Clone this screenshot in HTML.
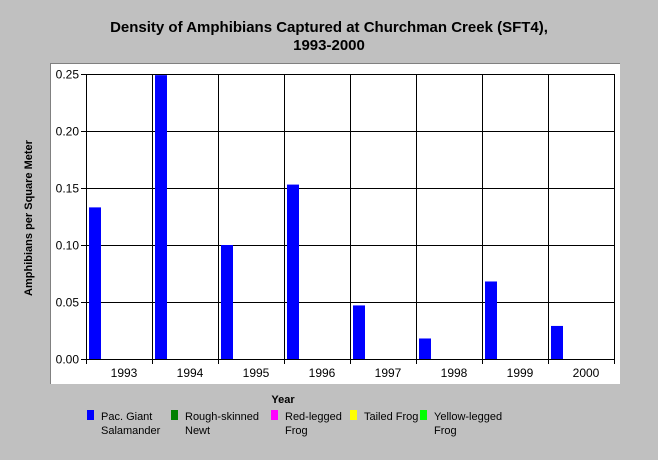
<!DOCTYPE html>
<html><head><meta charset="utf-8"><style>
body{margin:0;background:#c0c0c0;}
svg text{font-family:"Liberation Sans",Arial,sans-serif;}
</style></head><body>
<svg id="chart" width="658" height="455" xmlns="http://www.w3.org/2000/svg">
<rect width="658" height="455" fill="#c0c0c0"/>
<text x="329" y="32" text-anchor="middle" font-size="15" font-weight="bold">Density of Amphibians Captured at Churchman Creek (SFT4),</text>
<text x="329" y="50" text-anchor="middle" font-size="15" font-weight="bold">1993-2000</text>
<rect x="50" y="63" width="570" height="321" fill="#fff"/>
<line x1="50" y1="63.5" x2="620" y2="63.5" stroke="#808080"/>
<line x1="50.5" y1="63" x2="50.5" y2="384" stroke="#808080"/>
<g id="grid"></g>
<g id="bars"></g>
<g id="axes"></g>
<text transform="translate(32,218) rotate(-90)" text-anchor="middle" font-size="11" font-weight="bold">Amphibians per Square Meter</text>
<text x="283" y="403" text-anchor="middle" font-size="11" font-weight="bold">Year</text>
<g id="legend"></g>
</svg>
<script>
const years=["1993","1994","1995","1996","1997","1998","1999","2000"];
const seriesNames=["Pac. Giant|Salamander","Rough-skinned|Newt","Red-legged|Frog","Tailed Frog","Yellow-legged|Frog"];
const seriesColors=["#0000ff","#008000","#ff00ff","#ffff00","#00ff00"];
const pacGiant=[0.133,0.249,0.100,0.153,0.047,0.018,0.068,0.029];
const roughNewt=[0,0,0,0,0,0,0,0];
const redLegged=[0,0,0,0,0,0,0,0];
const tailedFrog=[0,0,0,0,0,0,0,0];
const yellowLegged=[0,0,0,0,0,0,0,0];
const yTicks=[0,0.05,0.10,0.15,0.20,0.25];
const series=[pacGiant,roughNewt,redLegged,tailedFrog,yellowLegged];
const NS="http://www.w3.org/2000/svg";
const X0=86,X1=614,Y0=359,YT=74,YMAX=0.25;
const catW=(X1-X0)/years.length;
const y=v=>Y0-(v/YMAX)*(Y0-YT);
function mk(tag,attrs,parent){const e=document.createElementNS(NS,tag);for(const k in attrs)e.setAttribute(k,attrs[k]);parent.appendChild(e);return e;}
const grid=document.getElementById('grid'),bars=document.getElementById('bars'),axes=document.getElementById('axes'),legend=document.getElementById('legend');
yTicks.forEach(t=>{
 const yy=Math.round(y(t))+0.5;
 const l=mk('line',{x1:X0-5,x2:X1,y1:yy,y2:yy,stroke:'#000'},grid);
 
 
 const tx=mk('text',{x:X0-7,y:yy+4,'text-anchor':'end','font-size':12},axes);
 tx.textContent=t.toFixed(2);
 
 
});
for(let i=0;i<=years.length;i++){
 const xx=Math.round(X0+i*catW)+0.5;
 const l=mk('line',{x1:xx,x2:xx,y1:YT,y2:Y0+5,stroke:'#000'},grid);
 
 
}
years.forEach((yr,i)=>{
 const tx=mk('text',{x:X0+i*catW+catW/2+5,y:Y0+18,'text-anchor':'middle','font-size':12},axes);
 tx.textContent=yr;
 
 
 series.forEach((s,j)=>{
  if(s[i]<=0)return;
  const bw=(catW-6)/series.length;
  const r=mk('rect',{x:X0+i*catW+3+j*bw,y:y(s[i]),width:bw,height:Y0-y(s[i]),fill:seriesColors[j]},bars);
  
  
 });
});
const la=mk('line',{x1:X0+0.5,x2:X0+0.5,y1:YT,y2:Y0,stroke:'#000'},axes);


const lb=mk('line',{x1:X0,x2:X1,y1:Y0+0.5,y2:Y0+0.5,stroke:'#000'},axes);


const legX=[87,171,271,350,420];
seriesNames.forEach((n,j)=>{
 const g=mk('g',{},legend);
 
 
 mk('rect',{x:legX[j],y:410,width:7,height:10,fill:seriesColors[j]},g);
 n.split('|').forEach((ln,k)=>{
  const t=mk('text',{x:legX[j]+14,y:420+k*14,'font-size':11},g);
  t.textContent=ln;
 });
});
</script>
</body></html>
